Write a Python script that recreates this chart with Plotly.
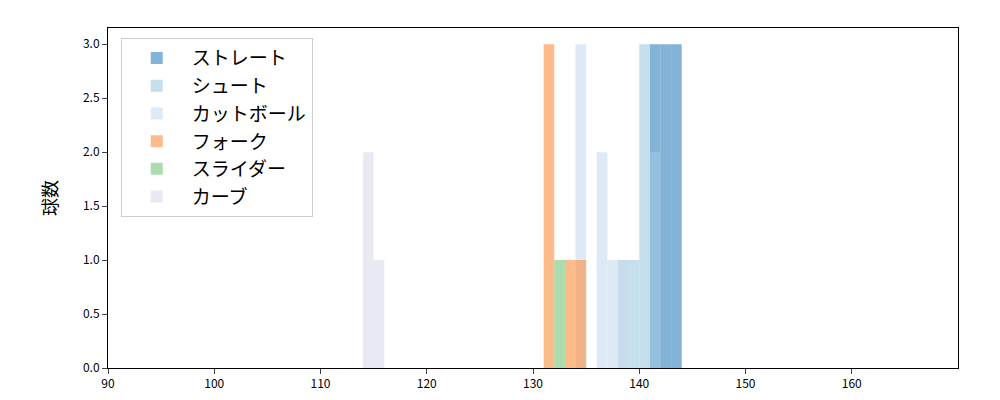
import plotly.graph_objects as go

names = ["ストレート", "シュート", "カットボール", "フォーク", "スライダー", "カーブ"]
colors = ["rgba(49,130,189,0.6)", "rgba(158,202,225,0.6)", "rgba(198,219,239,0.6)",
          "rgba(253,141,60,0.6)", "rgba(116,196,118,0.6)", "rgba(218,218,235,0.6)"]
bin_starts = [
    [141, 142, 143],
    [138, 139, 140, 141],
    [134, 136, 137, 138],
    [131, 133, 134],
    [132],
    [114, 115],
]
counts = [
    [3, 3, 3],
    [1, 1, 3, 2],
    [3, 2, 1, 1],
    [3, 1, 1],
    [1],
    [2, 1],
]

fig = go.Figure()
for n, c, xs, ys in zip(names, colors, bin_starts, counts):
    fig.add_trace(go.Bar(x=[x + 0.5 for x in xs], y=ys, width=1, name=n,
                         marker=dict(color=c, line=dict(width=0))))

fig.update_layout(
    width=1000, height=400, barmode="overlay", plot_bgcolor="white", paper_bgcolor="white",
    margin=dict(l=100, r=50, t=20, b=40, autoexpand=False),
    font=dict(family="Noto Sans CJK JP", size=12, color="black"),
    legend=dict(x=0.015, y=0.97, xanchor="left", yanchor="top", font=dict(size=19),
                bordercolor="#cccccc", borderwidth=1, bgcolor="rgba(255,255,255,0.8)",
                itemwidth=60),
    xaxis=dict(range=[90, 170], tickvals=[90, 100, 110, 120, 130, 140, 150, 160],
               showgrid=False, showline=True, mirror=True,
               linecolor="black", ticks="outside", zeroline=False, automargin=False),
    yaxis=dict(range=[0, 3.15], tickvals=[0, 0.5, 1, 1.5, 2, 2.5, 3],
               ticktext=["0.0", "0.5", "1.0", "1.5", "2.0", "2.5", "3.0"], showgrid=False,
               showline=True, mirror=True, linecolor="black", ticks="outside", zeroline=False,
               automargin=False, title=dict(text="球数", font=dict(size=18), standoff=20)),
)
fig.write_html("out.html")
